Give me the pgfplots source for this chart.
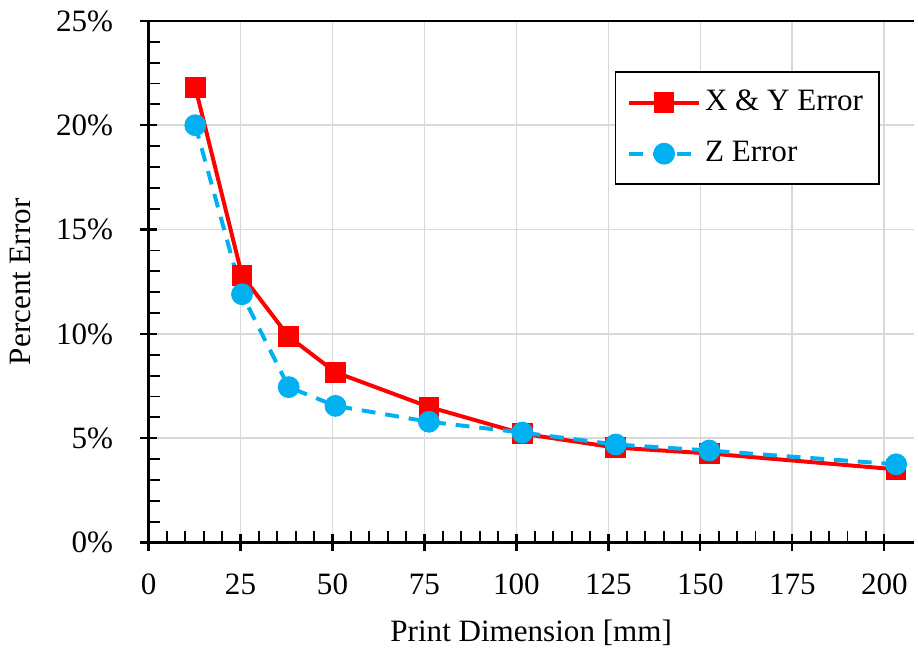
\documentclass[border=0pt]{standalone}
\usepackage{fontspec}
\setmainfont{Liberation Serif}
\usepackage{pgfplots}
\pgfplotsset{compat=1.18}
\definecolor{xyred}{HTML}{FF0000}
\definecolor{zblue}{HTML}{00B0F0}
\definecolor{gridgray}{HTML}{D9D9D9}

\begin{document}
\fontsize{15.7}{18}\selectfont
\begin{tikzpicture}
\begin{axis}[
    scale only axis,
    width=386.5pt, height=263.5pt,
    xmin=0, xmax=208, ymin=0, ymax=25,
    xtick={0,25,...,200}, ytick={0,5,...,25},
    minor x tick num=4, minor y tick num=4,
    axis lines=left,
    axis line style={-, black, line width=1.2pt},
    tick align=center,
    major tick length=9pt, minor tick length=6pt,
    major tick style={black, line width=1.1pt},
    minor tick style={black, line width=0.9pt},
    minor x tick style={yshift=3pt},
    minor y tick style={xshift=3pt},
    xmajorgrids, ymajorgrids,
    grid style={gridgray, line width=0.9pt},
    yticklabel={\pgfmathprintnumber{\tick}\%},
    /pgf/number format/assume math mode=true,
    tick label style={font=\fontsize{15.7}{18}\selectfont},
    label style={font=\fontsize{15.7}{18}\selectfont},
    xticklabel style={yshift=-6pt},
    yticklabel style={xshift=-8pt},
    xlabel={Print Dimension [mm]},
    ylabel={Percent Error},
    xlabel style={yshift=-2pt},
    ylabel style={yshift=2pt},
    legend style={at={(0.609,0.903)}, anchor=north west, draw=black,
        line width=0.8pt, font=\fontsize{15.7}{18}\selectfont,
        row sep=9pt, inner xsep=6pt, inner ysep=7pt},
    legend cell align=left,
    legend image code/.code={
        \draw[mark repeat=2,mark phase=2] plot coordinates {(0cm,0cm) (0.62cm,0cm) (1.24cm,0cm)};},
    clip=false,
]
\addplot[color=xyred, line width=2pt, mark=square*, mark size=4.2pt,
    mark options={solid, fill=xyred}] coordinates {
    (12.7,21.82) (25.4,12.8) (38.1,9.87) (50.8,8.16) (76.2,6.5)
    (101.6,5.22) (127,4.55) (152.4,4.27) (203.2,3.51)
};
\addplot[color=zblue, line width=2pt, dash pattern=on 7pt off 5pt, mark=*,
    mark size=4.5pt, mark options={solid, fill=zblue}] coordinates {
    (12.7,20.0) (25.4,11.9) (38.1,7.45) (50.8,6.55) (76.2,5.79)
    (101.6,5.27) (127,4.7) (152.4,4.41) (203.2,3.75)
};
\legend{X \& Y Error, Z Error}
\draw[black, line width=1.2pt] (rel axis cs:0,1) -- (rel axis cs:1,1);
\end{axis}
\end{tikzpicture}
\end{document}
